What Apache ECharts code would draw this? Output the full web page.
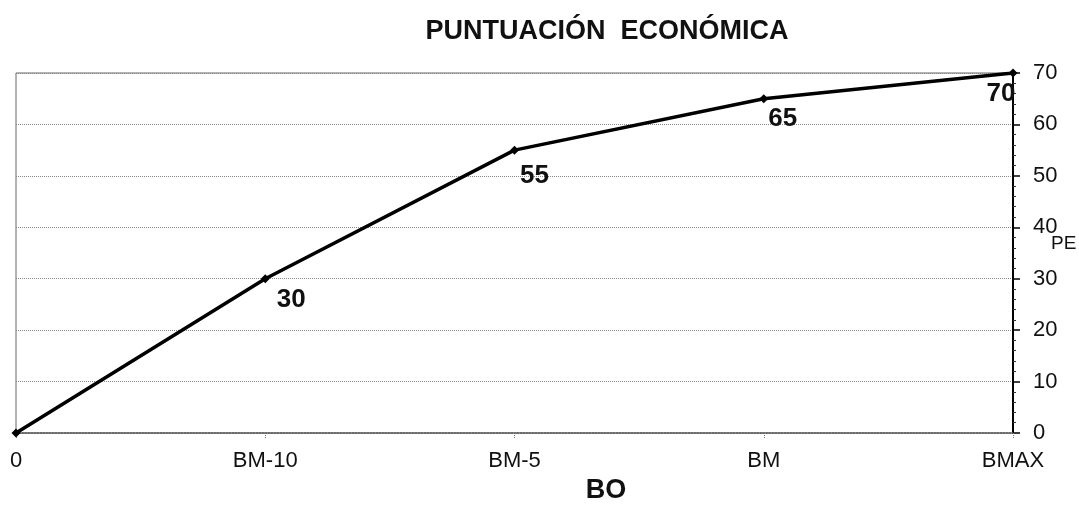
<!DOCTYPE html>
<html>
<head>
<meta charset="utf-8">
<script src="https://cdn.jsdelivr.net/npm/echarts@6/dist/echarts.min.js"></script>
<style>html,body{margin:0;padding:0;background:#fff;}#c{width:1079px;height:505px;}</style>
</head>
<body>
<div id="c"></div>
<script>
const categories = ['0', 'BM-10', 'BM-5', 'BM', 'BMAX'];
const values = [0, 30, 55, 65, 70];
const labelOffsets = [[0, 0], [26, 21], [20, 26], [19, 20], [-12, 21]];

const chart = echarts.init(document.getElementById('c'));
chart.setOption({
  backgroundColor: '#fff',
  animation: false,
  title: [
    { text: 'PUNTUACIÓN  ECONÓMICA', left: 602, top: 13, textAlign: 'center',
      textStyle: { fontFamily: 'Liberation Sans', fontWeight: 'bold', fontSize: 27, color: '#111' } },
    { text: 'BO', left: 601, top: 472, textAlign: 'center',
      textStyle: { fontFamily: 'Liberation Sans', fontWeight: 'bold', fontSize: 27, color: '#111' } }
  ],
  grid: { left: 16, right: 66, top: 73, bottom: 72, show: true, borderColor: '#666', borderWidth: 1, backgroundColor: '#fff',
          containLabel: false, outerBoundsMode: 'none' },
  xAxis: {
    type: 'category', data: categories, boundaryGap: false,
    axisLine: { show: true, lineStyle: { color: '#555', type: 'dotted', width: 1.5 } },
    axisTick: { show: true, alignWithLabel: true, length: 5, inside: false, lineStyle: { color: '#777', type: 'dotted' } },
    axisLabel: { margin: 17, fontFamily: 'Liberation Sans', fontSize: 22, color: '#111' },
    splitLine: { show: false }
  },
  yAxis: {
    type: 'value', position: 'right', min: 0, max: 70, interval: 10,
    name: 'PE', nameLocation: 'middle', nameRotate: 0, nameGap: 38, nameMoveOverlap: false,
    nameTextStyle: { fontFamily: 'Liberation Sans', fontSize: 19, color: '#111', verticalAlign: 'bottom', lineHeight: 19 },
    axisLine: { show: true, lineStyle: { color: '#000', width: 2 } },
    axisTick: { show: true, length: 7, lineStyle: { color: '#000', width: 1.5 } },
    minorTick: { show: true, splitNumber: 5, length: 3, lineStyle: { color: '#333' } },
    axisLabel: { margin: 20, fontFamily: 'Liberation Sans', fontSize: 22, color: '#111' },
    splitLine: { show: true, lineStyle: { color: '#888', type: 'dotted', width: 1 } }
  },
  series: [{
    type: 'line', data: values.map((v, i) => ({
      value: v,
      label: { show: i > 0, offset: labelOffsets[i] }
    })),
    symbol: 'diamond', symbolSize: 9,
    lineStyle: { color: '#000', width: 3.5 },
    itemStyle: { color: '#000' },
    label: { show: true, position: 'inside', fontFamily: 'Liberation Sans', fontWeight: 'bold', fontSize: 26, color: '#111' }
  }]
});
</script>
</body>
</html>
